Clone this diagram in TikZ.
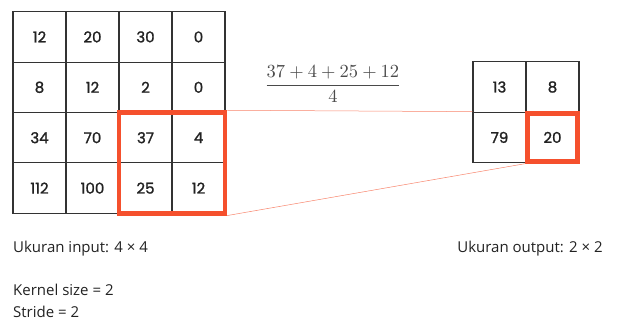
\documentclass[tikz,border=0pt]{standalone}
\usepackage{amsmath}
\usepackage{fontspec}
\setmainfont{Open Sans}
\newfontfamily\numfont[FakeBold=1.3]{Poppins}
\usetikzlibrary{positioning}
\definecolor{redbox}{HTML}{F5502D}
\definecolor{gridline}{HTML}{333333}
\definecolor{txt}{HTML}{222222}
\definecolor{mathtxt}{HTML}{4A4A4A}
\begin{document}
\begin{tikzpicture}[x=1pt,y=-1pt,
  cell/.style={draw=gridline,line width=1.1pt,minimum width=53pt,minimum height=50.4pt,inner sep=0pt,font=\numfont\fontsize{15}{17}\selectfont,text=txt},
  kbox/.style={draw=redbox,line width=4.5pt,inner sep=0pt},
  link/.style={draw=redbox!70,line width=0.5pt},
  label/.style={anchor=base west,inner sep=0pt,font=\fontsize{15}{17}\selectfont,text=txt}]
\useasboundingbox (0,0) rectangle (618,329);
% input grid
\foreach \r/\vals in {0/{12,20,30,0},1/{8,12,2,0},2/{34,70,37,4},3/{112,100,25,12}}{
  \foreach \v [count=\c from 0] in \vals {
    \node[cell] (i\r\c) at ({13+26.5+53*\c},{11.7+25.2+50.4*\r}) {\v};
  }
}
% output grid
\node[cell] (o00) at (499.5,87) {13};
\node[cell] (o01) at (552.5,87) {8};
\node[cell] (o10) at (499.5,137.4) {79};
\node[cell] (o11) at (552.5,137.4) {20};
% kernel boxes
\node[kbox,minimum width=106pt,minimum height=100.8pt] (kin) at ({13+106+53},{11.7+100.8+50.4}) {};
\node[kbox,minimum width=50pt,minimum height=48pt] (kout) at (o11) {};
% links
\draw[link] (kin.north east) -- (o10.north west);
\draw[link] (kin.south east) -- (kout.south west);
% formula
\node[text=mathtxt,scale=1.85,transform shape] (frac) at (333,84) {$\dfrac{37+4+25+12}{4}$};
% texts
\node[label] (tin) at (13,252) {Ukuran input: 4 × 4};
\node[label,anchor=base] (tout) at (530,252) {Ukuran output: 2 × 2};
\node[label] (tk) at (13,295) {Kernel size = 2};
\node[label] (ts) at (13,317) {Stride = 2};
\end{tikzpicture}
\end{document}
